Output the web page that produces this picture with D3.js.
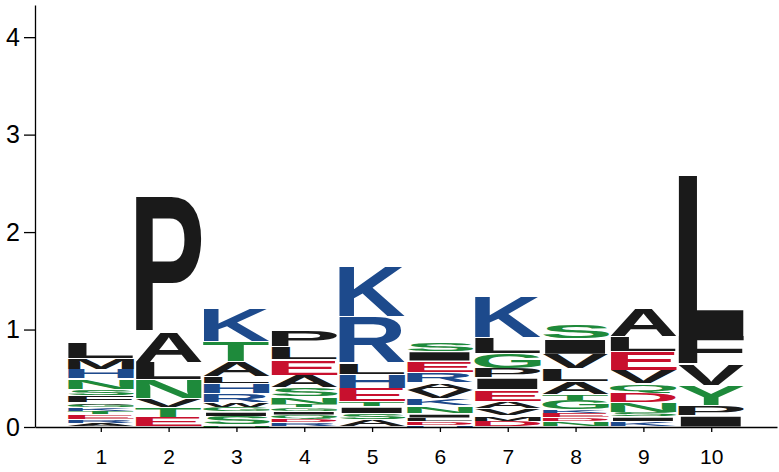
<!DOCTYPE html>
<html>
<head>
<meta charset="utf-8">
<script src="https://cdn.jsdelivr.net/npm/d3@7"></script>
<style>
  html, body { margin: 0; padding: 0; background: #fff; }
  svg { display: block; }
  .axis text { font-family: "Liberation Sans", Arial, Helvetica, sans-serif; fill: #000; }
  .yaxis text { font-size: 25px; }
  .xaxis text { font-size: 21px; }
  .axis path, .axis line { stroke: #000; stroke-width: 1.3; }
</style>
</head>
<body>
<svg id="chart" width="779" height="472"></svg>
<script>
// ---- data (bottom to top for each position) ----
const positions = [1, 2, 3, 4, 5, 6, 7, 8, 9, 10];
const yTicks = [0, 1, 2, 3, 4];
const columnLetters = [
  ["A","R","E","T","K","G","V","F","S","N","H","M","L"],
  ["E","T","V","N","L","A","P"],
  ["N","S","I","G","W","R","H","L","A","T","K"],
  ["R","D","Q","I","G","T","N","S","A","E","L","P"],
  ["A","S","I","T","E","H","L","R","K"],
  ["H","D","L","I","N","K","V","A","R","E","I","S"],
  ["D","M","V","A","E","I","P","G","L","K"],
  ["N","D","E","K","G","T","A","L","V","I","S"],
  ["K","I","S","N","D","Q","V","E","L","A"],
  ["I","P","Y","V","F","L"]
];
const columnBits = [
  [0.036,0.041,0.046,0.031,0.041,0.031,0.020,0.077,0.061,0.108,0.102,0.113,0.164],
  [0.100,0.100,0.090,0.195,0.175,0.310,1.400],
  [0.020,0.087,0.046,0.051,0.051,0.092,0.102,0.072,0.154,0.205,0.338],
  [0.041,0.041,0.041,0.036,0.041,0.026,0.082,0.092,0.128,0.159,0.133,0.174],
  [0.077,0.061,0.067,0.056,0.138,0.143,0.118,0.476,0.523],
  [0.020,0.031,0.041,0.041,0.082,0.072,0.087,0.082,0.102,0.118,0.097,0.097],
  [0.061,0.056,0.077,0.072,0.118,0.118,0.097,0.159,0.164,0.420],
  [0.051,0.041,0.051,0.031,0.102,0.061,0.133,0.128,0.149,0.154,0.143],
  [0.056,0.046,0.046,0.102,0.097,0.097,0.138,0.195,0.154,0.287],
  [0.113,0.102,0.210,0.220,0.287,1.660]
];
const letterGroups = {
  black: "AVLIPWFM",
  green: "STNQGCY",
  blue: "KRH",
  red: "DE"
};
const groupColors = { black: "#1a1a1a", green: "#1e8a3b", blue: "#1d4a8c", red: "#c8102e" };

// ---- layout ----
const svg = d3.select("#chart");
const x = d3.scaleLinear().domain([0.03, 10.97]).range([35, 777]);
const y = d3.scaleLinear().domain([0, 4.33]).range([427, 5]);
const colWidth = 66.5;
const FONT = "bold 100px 'Liberation Sans', Arial, Helvetica, sans-serif";

const ctx = document.createElement("canvas").getContext("2d");
ctx.font = FONT;
const metricsCache = {};
function metrics(ch) {
  if (!metricsCache[ch]) {
    const m = ctx.measureText(ch);
    metricsCache[ch] = {
      l: m.actualBoundingBoxLeft, r: m.actualBoundingBoxRight,
      a: m.actualBoundingBoxAscent, d: m.actualBoundingBoxDescent
    };
  }
  return metricsCache[ch];
}
function colorOf(ch) {
  for (const g in letterGroups) if (letterGroups[g].includes(ch)) return groupColors[g];
  return "#1a1a1a";
}

const stacks = positions.map((p, i) => {
  let acc = 0;
  return columnLetters[i].map((ch, j) => {
    const b = columnBits[i][j];
    const item = { pos: p, ch, y0: acc, y1: acc + b };
    acc += b;
    return item;
  });
}).flat();

const gLetters = svg.append("g").attr("class", "letters");
gLetters.selectAll("text").data(stacks).join("text")
  .text(d => d.ch)
  .attr("fill", d => colorOf(d.ch))
  .style("font", FONT)
  .attr("transform", d => {
    const m = metrics(d.ch);
    const x0 = x(d.pos) - colWidth / 2;
    const top = y(d.y1);
    const bottom = y(d.y0);
    let h = bottom - top;
    const gap = h > 3 ? 1.1 : 0.4;
    h = Math.max(0.3, h - gap);
    const sx = colWidth / (m.l + m.r);
    const sy = h / (m.a + m.d);
    return `translate(${x0},${top + gap / 2}) scale(${sx},${sy}) translate(${m.l},${m.a})`;
  });

// ---- axes ----
svg.append("g").attr("class", "axis yaxis")
  .attr("transform", `translate(35,0)`)
  .call(d3.axisLeft(y).tickValues(yTicks).tickFormat(d3.format("d")).tickSize(11).tickSizeOuter(0).tickPadding(4));

svg.append("g").attr("class", "axis xaxis")
  .attr("transform", `translate(0,427)`)
  .call(d3.axisBottom(x).tickValues(positions).tickFormat(d3.format("d")).tickSize(5).tickSizeOuter(0).tickPadding(17));
</script>
</body>
</html>
